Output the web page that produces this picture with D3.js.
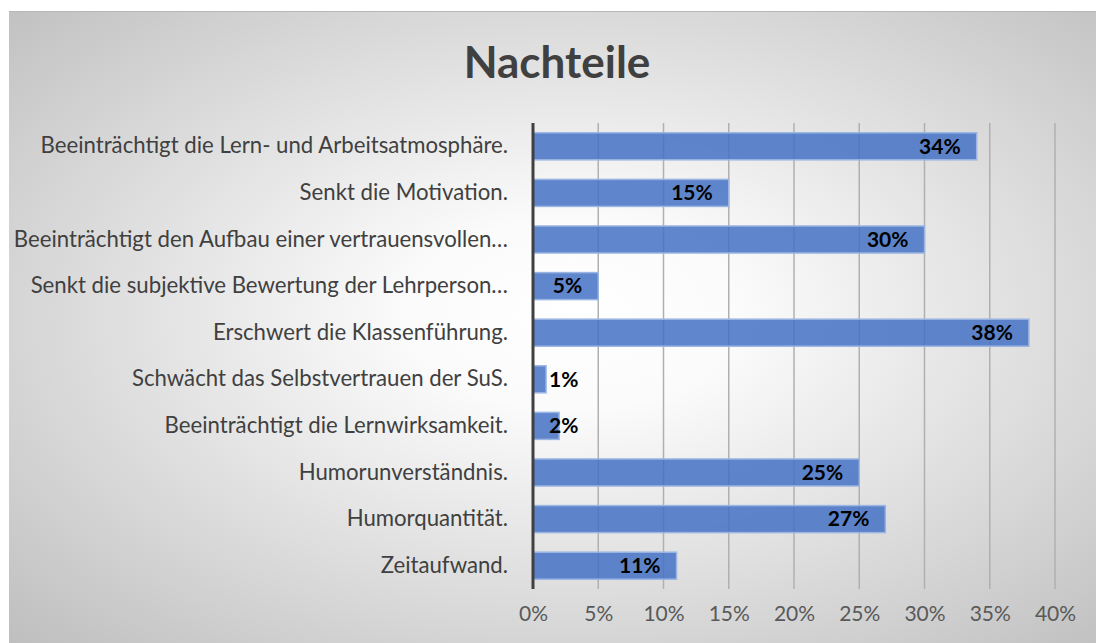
<!DOCTYPE html>
<html><head><meta charset="utf-8">
<script src="https://cdn.jsdelivr.net/npm/d3@7"></script>
<style>html,body{margin:0;padding:0;background:#fff;overflow:hidden}</style>
</head><body>
<script>
const title = "Nachteile";
const categories = [
  "Beeinträchtigt die Lern- und Arbeitsatmosphäre.",
  "Senkt die Motivation.",
  "Beeinträchtigt den Aufbau einer vertrauensvollen…",
  "Senkt die subjektive Bewertung der Lehrperson…",
  "Erschwert die Klassenführung.",
  "Schwächt das Selbstvertrauen der SuS.",
  "Beeinträchtigt die Lernwirksamkeit.",
  "Humorunverständnis.",
  "Humorquantität.",
  "Zeitaufwand."
];
const values = [0.34, 0.15, 0.30, 0.05, 0.38, 0.01, 0.02, 0.25, 0.27, 0.11];
const tickValues = [0, 0.05, 0.10, 0.15, 0.20, 0.25, 0.30, 0.35, 0.40];

const W = 1096, H = 643;
const font = "Lato, sans-serif";
const svg = d3.select("body").append("svg").attr("width", W).attr("height", H);

const defs = svg.append("defs");
const rg = defs.append("radialGradient").attr("id","bg").attr("cx","52%").attr("cy","48%").attr("r","75%");
rg.append("stop").attr("offset","0%").attr("stop-color","#ffffff");
rg.append("stop").attr("offset","20%").attr("stop-color","#fbfbfb");
rg.append("stop").attr("offset","100%").attr("stop-color","#bdbdbd");

svg.append("rect").attr("x",9).attr("y",11).attr("width",W-9).attr("height",H-11).attr("fill","url(#bg)");
svg.append("line").attr("x1",9).attr("x2",W).attr("y1",11.5).attr("y2",11.5).attr("stroke","#b8b8b8").attr("stroke-width",1);

svg.append("text").attr("x",557).attr("y",78).attr("text-anchor","middle")
  .attr("font-family",font).attr("font-weight","bold").attr("font-size",44)
  .attr("fill","#404040").text(title);

const x = d3.scaleLinear().domain([0,0.40]).range([533,1055]);
const y = d3.scaleBand().domain(categories).range([123,589]).paddingInner(0.42).paddingOuter(0.21);

svg.append("g").selectAll("line").data(tickValues.slice(1)).join("line")
  .attr("x1",d=>x(d)).attr("x2",d=>x(d)).attr("y1",123).attr("y2",589)
  .attr("stroke","#b0b0b0").attr("stroke-width",1.5);

svg.append("g").selectAll("rect").data(values).join("rect")
  .attr("x",x(0)).attr("y",(d,i)=>y(categories[i]))
  .attr("width",d=>x(d)-x(0)).attr("height",y.bandwidth())
  .attr("fill","#4472c4").attr("fill-opacity",0.85)
  .attr("stroke","#9bb5e3").attr("stroke-width",1.5);

svg.append("line").attr("x1",x(0)).attr("x2",x(0)).attr("y1",123).attr("y2",589)
  .attr("stroke","#404040").attr("stroke-width",3);

const xAxis = d3.axisBottom(x).tickValues(tickValues).tickFormat(d3.format(".0%")).tickSize(0).tickPadding(0);
const gx = svg.append("g").attr("transform","translate(0,606)").call(xAxis);
gx.select(".domain").remove();
gx.selectAll("text").attr("font-family",font).attr("font-size",21).attr("fill","#595959");

const yAxis = d3.axisLeft(y).tickSize(0).tickPadding(0);
const gy = svg.append("g").attr("transform","translate(508,0)").call(yAxis);
gy.select(".domain").remove();
gy.selectAll("text").attr("font-family",font).attr("font-size",22.2).attr("fill","#404040");

const lbl = svg.append("g").selectAll("text").data(values).join("text")
  .attr("y",(d,i)=>y(categories[i])+y.bandwidth()/2)
  .attr("dy","0.35em").attr("text-anchor","end")
  .attr("font-family",font).attr("font-weight","bold").attr("font-size",21)
  .attr("fill","#000").text(d3.format(".0%"));
lbl.each(function(d){
  const w = this.getComputedTextLength();
  d3.select(this).attr("x", Math.max(x(d)-16, x(0)+16+w));
});
</script>
</body></html>
